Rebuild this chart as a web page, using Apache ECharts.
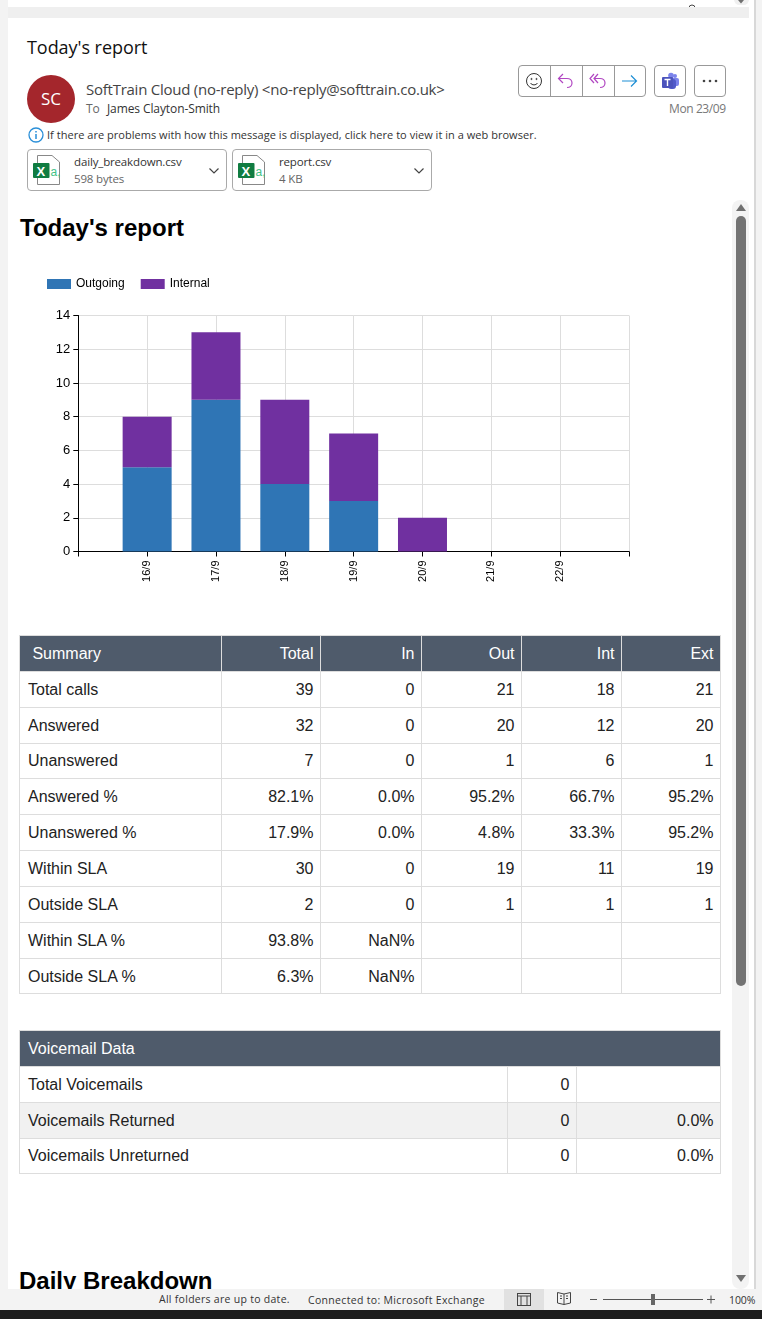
<!DOCTYPE html>
<html>
<head>
<meta charset="utf-8">
<title>Today's report</title>
<script src="https://cdn.jsdelivr.net/npm/echarts@6/dist/echarts.min.js"></script>
<style>
  html, body { margin: 0; padding: 0; background: #f3f3f3; }
  #page { position: relative; width: 762px; height: 1319px; overflow: hidden; background: #f3f3f3; }
  #page div, #page span.t { position: absolute; white-space: nowrap; }
  .ui { font-family: "Open Sans", sans-serif; color: #333; }
  .grid { position: absolute; border-collapse: collapse; table-layout: fixed; font: 16px "Liberation Sans", Arial, sans-serif; color: #222; }
  .grid td, .grid th { border: 1px solid #ddd; padding: 1px 6.5px 0 8px; height: 33.85px; box-sizing: content-box; overflow: hidden; white-space: nowrap; }
  .grid th { background: #4f5b6b; color: #fff; font-weight: normal; text-align: right; border-color: #ddd; }
  .grid td { text-align: right; background: #fff; }
  .grid td:first-child, .grid th:first-child { text-align: left; }
  .btn { border: 1px solid #999; border-radius: 4px; background: #fff; box-sizing: border-box; }
  .att { border: 1px solid #aaa; border-radius: 4px; background: #fff; box-sizing: border-box; height: 42px; top: 149px; }
</style>
</head>
<body>
<div id="page">
  <div style="left:8px;top:0;width:747px;height:1289px;background:#fff"></div>
  <div style="left:754px;top:0;width:2px;height:1289px;background:#d8d8d8"></div>
  <div style="left:8px;top:7px;width:741px;height:11px;background:#efefef"></div>
  <div style="left:734px;top:-6px;width:15px;height:11px;background:#f0f0f0;border-radius:6px"></div>
  <svg style="position:absolute;left:737px;top:0" width="8" height="5"><path d="M1 0H7L4 3.500Z" fill="#707070"/></svg>
  <svg style="position:absolute;left:688px;top:2px" width="8" height="5" fill="none" stroke="#444"><circle cx="4" cy="6" r="3"/></svg>
  <div style="left:732px;top:200px;width:17px;height:1089px;background:#f3f3f3;border-radius:8px"></div>
  <div style="left:736px;top:216px;width:10px;height:770px;background:#737373;border-radius:5px"></div>
  <svg style="position:absolute;left:735px;top:203px" width="12" height="9"><path d="M6 1L11 8H1Z" fill="#707070"/></svg>
  <svg style="position:absolute;left:735px;top:1274px" width="12" height="9"><path d="M6 8L11 1H1Z" fill="#707070"/></svg>

  <div class="ui" style="left:27px;top:35px;font-size:18px;letter-spacing:-.05px;color:#111">Today's report</div>
  <div style="left:27px;top:75px;width:48px;height:48px;border-radius:50%;background:#a4262c"></div>
  <div class="ui" style="left:27px;top:87px;width:48px;text-align:center;font-size:17px;color:#fff">SC</div>
  <div class="ui" style="left:86px;top:79px;font-size:15px;letter-spacing:-.25px;color:#444">SoftTrain Cloud (no-reply) &lt;no-reply@softtrain.co.uk&gt;</div>
  <div class="ui" style="left:86px;top:100px;font-size:12px;letter-spacing:-.2px;color:#666">To</div>
  <div class="ui" style="left:107px;top:100px;font-size:12px;letter-spacing:-.1px;color:#333">James Clayton-Smith</div>
  <div class="ui" style="left:669px;top:100px;font-size:12px;letter-spacing:-.4px;color:#777">Mon 23/09</div>

  <div class="btn" style="left:518px;top:65px;width:128px;height:32px"></div>
  <div style="left:550px;top:66px;width:1px;height:30px;background:#999"></div>
  <div style="left:582px;top:66px;width:1px;height:30px;background:#999"></div>
  <div style="left:614px;top:66px;width:1px;height:30px;background:#999"></div>
  <svg style="position:absolute;left:525px;top:72px" width="18" height="18" fill="none" stroke="#333">
    <circle cx="9" cy="9" r="7.5"/><path d="M5.5 11c1.5 2.5 5.500 2.500 7 0"/><circle cx="6.500" cy="7" r=".6"/><circle cx="11.500" cy="7" r=".6"/>
  </svg>
  <svg style="position:absolute;left:557px;top:72px" width="18" height="18" fill="none" stroke="#b146c2" stroke-width="1.200">
    <path d="M6 2L1.500 6.500L6 11M2 6.500H10C13 6.500 15 8.500 15 11S13 15.500 10 15.500"/>
  </svg>
  <svg style="position:absolute;left:589px;top:72px" width="19" height="18" fill="none" stroke="#b146c2" stroke-width="1.200">
    <path d="M5 2L1 6.500L5 11M9 2L5 6.500L9 11M5.500 6.500H11C14 6.500 16 8.500 16 11S14 15.500 11 15.500"/>
  </svg>
  <svg style="position:absolute;left:621px;top:73px" width="17" height="16" fill="none" stroke="#1e8fd5" stroke-width="1.200">
    <path d="M1 8H15M10 2.500L15.500 8L10 13.500"/>
  </svg>
  <div class="btn" style="left:654px;top:65px;width:32px;height:32px"></div>
  <svg style="position:absolute;left:661px;top:72px" width="18" height="18">
    <circle cx="14" cy="4" r="2" fill="#7b83eb"/><circle cx="10" cy="3.500" r="2.800" fill="#7b83eb"/>
    <rect x="7" y="6" width="11" height="8" rx="2" fill="#7b83eb"/><rect x="7" y="7" width="8" height="10" rx="3" fill="#5059c9"/>
    <rect x="1" y="5" width="11" height="11" rx="1" fill="#4b53bc"/><path d="M3.500 7.500h6M6.500 7.500v6.500" stroke="#fff" stroke-width="1.400"/>
  </svg>
  <div class="btn" style="left:694px;top:65px;width:32px;height:32px"></div>
  <svg style="position:absolute;left:701px;top:79px" width="18" height="4" fill="#444">
    <circle cx="3" cy="2" r="1.300"/><circle cx="9" cy="2" r="1.300"/><circle cx="15" cy="2" r="1.300"/>
  </svg>

  <svg style="position:absolute;left:28px;top:127px" width="16" height="16" fill="none">
    <circle cx="8" cy="8" r="7" stroke="#2a8fd8" stroke-width="1.300"/><path d="M8 7v5M8 4v1.500" stroke="#2a8fd8" stroke-width="1.500"/>
  </svg>
  <div class="ui" style="left:47px;top:127px;font-size:11px;letter-spacing:.03px;color:#333">If there are problems with how this message is displayed, click here to view it in a web browser.</div>

  <div class="att" style="left:27px;width:200px"></div>
  <div class="ui" style="left:74px;top:154px;font-size:11.500px;letter-spacing:-.15px">daily_breakdown.csv</div>
  <div class="ui" style="left:74px;top:171px;font-size:11.500px;letter-spacing:-.15px;color:#666">598 bytes</div>
  <div class="att" style="left:232px;width:200px"></div>
  <div class="ui" style="left:279px;top:154px;font-size:11.500px;letter-spacing:-.15px">report.csv</div>
  <div class="ui" style="left:279px;top:171px;font-size:11.500px;letter-spacing:-.15px;color:#666">4 KB</div>
  <svg style="position:absolute;left:32px;top:155px" width="30" height="30">
    <path d="M5.500 .500H20L27.500 7V29.500H5.500Z" fill="#fff" stroke="#888"/><text x="18.500" y="21" font-size="12" font-family="Liberation Sans" fill="#3fc287">a,</text>
    <rect x="1" y="8" width="16.500" height="15" rx="1" fill="#107c41"/><text x="4.500" y="20.500" font-size="13" font-weight="bold" font-family="Liberation Sans" fill="#fff">X</text>
  </svg>
  <svg style="position:absolute;left:237px;top:155px" width="30" height="30">
    <path d="M5.500 .500H20L27.500 7V29.500H5.500Z" fill="#fff" stroke="#888"/><text x="18.500" y="21" font-size="12" font-family="Liberation Sans" fill="#3fc287">a,</text>
    <rect x="1" y="8" width="16.500" height="15" rx="1" fill="#107c41"/><text x="4.500" y="20.500" font-size="13" font-weight="bold" font-family="Liberation Sans" fill="#fff">X</text>
  </svg>
  <svg style="position:absolute;left:208px;top:167px" width="12" height="8" fill="none" stroke="#444" stroke-width="1.200"><path d="M1.500 1.500L6 6L10.500 1.500"/></svg>
  <svg style="position:absolute;left:413px;top:167px" width="12" height="8" fill="none" stroke="#444" stroke-width="1.200"><path d="M1.500 1.500L6 6L10.500 1.500"/></svg>

  <div style="left:20px;top:214px;font:bold 24px 'Liberation Sans',Arial,sans-serif;color:#000">Today's report</div>

  <div id="chart" style="left:0;top:265px;width:660px;height:330px"></div>

  <table id="summary" class="grid" style="left:19px;top:635px;width:701px"></table>
  <table id="voicemail" class="grid" style="left:19px;top:1030px;width:701px"></table>

  <div style="left:19px;top:1267px;font:bold 24px 'Liberation Sans',Arial,sans-serif;color:#000">Daily Breakdown</div>

  <div style="left:0;top:1289px;width:762px;height:21px;background:#f3f3f3"></div>
  <div style="left:504px;top:1289px;width:40px;height:21px;background:#e1e1e1"></div>
  <div style="left:0;top:1310px;width:762px;height:9px;background:#1c1c1c"></div>
  <div class="ui" style="left:159px;top:1292px;font-size:10.500px;letter-spacing:.28px">All folders are up to date.</div>
  <div class="ui" style="left:308px;top:1293px;font-size:10.500px;letter-spacing:.32px">Connected to: Microsoft Exchange</div>
  <svg style="position:absolute;left:517px;top:1292px" width="14" height="14" fill="none" stroke="#444"><rect x=".500" y="1.500" width="13" height="12"/><path d="M.500 4h13M4 4v9.500M10 4v9.500"/></svg>
  <svg style="position:absolute;left:557px;top:1291px" width="14" height="14" fill="none" stroke="#444"><path d="M.500 1.500L7 3L13.500 1.500V12L7 13.500L.500 12ZM7 3V13.500M3 5h2M3 7.500h2M9 5h2M9 7.500h2"/></svg>
  <svg style="position:absolute;left:588px;top:1292px" width="130" height="14">
    <path d="M2 7.500h7M15 7.500h100M119 7.500h8M123 3.500v8" stroke="#555" fill="none"/><rect x="63" y="2" width="4" height="11" fill="#666"/>
  </svg>
  <div class="ui" style="left:729px;top:1293px;font-size:10.500px;letter-spacing:-.1px">100%</div>
</div>

<script>
// chart values
const categories = ['', '16/9', '17/9', '18/9', '19/9', '20/9', '21/9', '22/9', ''];
const outgoing = [null, 5, 9, 4, 3, 0, 0, 0, null];
const internal = [null, 3, 4, 5, 4, 2, 0, 0, null];

// table contents
const summaryHead = ['\u00a0Summary', 'Total', 'In', 'Out', 'Int', 'Ext'];
const summaryRows = [
  ['Total calls', '39', '0', '21', '18', '21'],
  ['Answered', '32', '0', '20', '12', '20'],
  ['Unanswered', '7', '0', '1', '6', '1'],
  ['Answered %', '82.1%', '0.0%', '95.2%', '66.7%', '95.2%'],
  ['Unanswered %', '17.9%', '0.0%', '4.8%', '33.3%', '95.2%'],
  ['Within SLA', '30', '0', '19', '11', '19'],
  ['Outside SLA', '2', '0', '1', '1', '1'],
  ['Within SLA %', '93.8%', 'NaN%', '', '', ''],
  ['Outside SLA %', '6.3%', 'NaN%', '', '', '']
];
const voicemailRows = [
  ['Total Voicemails', '0', ''],
  ['Voicemails Returned', '0', '0.0%'],
  ['Voicemails Unreturned', '0', '0.0%']
];

function cols(widths) {
  return '<colgroup>' + widths.map(w => `<col style="width:${w}px">`).join('') + '</colgroup>';
}
function row(cells) {
  return '<tr>' + cells.map(c => `<td>${c}</td>`).join('') + '</tr>';
}

document.getElementById('summary').innerHTML = cols([202, 99, 101, 100, 100, 99]) +
  '<tr>' + summaryHead.map(c => `<th>${c}</th>`).join('') + '</tr>' +
  summaryRows.map(row).join('');

document.getElementById('voicemail').innerHTML = cols([488, 69, 144]) +
  '<tr><th colspan="3" style="text-align:left">Voicemail Data</th></tr>' +
  voicemailRows.map((r, i) => i === 1 ? row(r).replace(/<td>/g, '<td style="background:#f1f1f1">') : row(r)).join('');

const myChart = echarts.init(document.getElementById('chart'));
const labelFont = { fontFamily: '"Liberation Sans", Arial, sans-serif', color: '#000' };

myChart.setOption({
  animation: false,
  legend: {
    left: 47,
    top: 13,
    padding: 0,
    icon: 'rect',
    itemWidth: 24,
    itemHeight: 10,
    itemGap: 16,
    textStyle: Object.assign({ fontSize: 12 }, labelFont),
    data: ['Outgoing', 'Internal']
  },
  grid: { left: 78.3, top: 50.5, width: 550.7, height: 236, containLabel: false },
  xAxis: {
    type: 'category',
    data: categories,
    boundaryGap: false,
    axisLine: { lineStyle: { color: '#000', width: 1 } },
    axisTick: { show: true, length: 5, alignWithLabel: true, lineStyle: { color: '#000' } },
    axisLabel: Object.assign({ interval: 0, rotate: 90, fontSize: 11, margin: 9, showMinLabel: true, showMaxLabel: true }, labelFont),
    splitLine: { show: true, interval: 0, lineStyle: { color: '#ddd', width: 1 } }
  },
  yAxis: {
    type: 'value',
    min: 0,
    max: 14,
    interval: 2,
    axisLine: { show: true, lineStyle: { color: '#000', width: 1 } },
    axisTick: { show: true, length: 5, lineStyle: { color: '#000' } },
    axisLabel: Object.assign({ fontSize: 13, margin: 8 }, labelFont),
    splitLine: { show: true, lineStyle: { color: '#ddd', width: 1 } }
  },
  series: [
    { name: 'Outgoing', type: 'bar', stack: 'calls', barWidth: 49, itemStyle: { color: '#2f75b5' }, data: outgoing },
    { name: 'Internal', type: 'bar', stack: 'calls', barWidth: 49, itemStyle: { color: '#7030a0' }, data: internal }
  ]
});
</script>
</body>
</html>
